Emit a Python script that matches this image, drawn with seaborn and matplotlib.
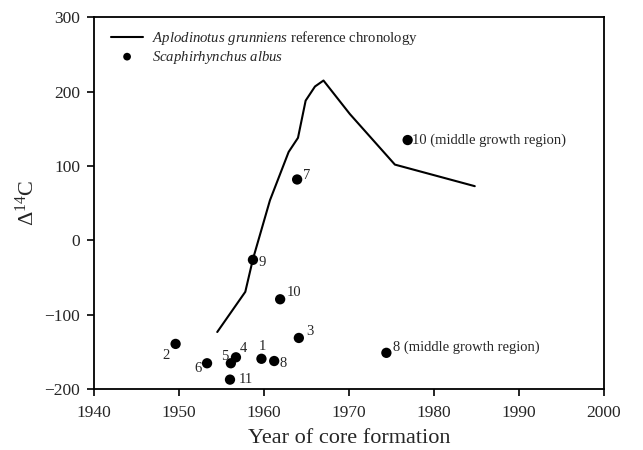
import pandas as pd
import matplotlib
matplotlib.use('Agg')
import matplotlib.pyplot as plt
import seaborn as sns

# reference chronology (Aplodinotus grunniens)
ref_year = [1954.5, 1957.8, 1958.7, 1960.7, 1962.9, 1964.0, 1964.9, 1966.0, 1967.0, 1970.1, 1975.4, 1984.8]
ref_d14c = [-123, -69, -25, 54, 119, 138, 188, 207, 215, 170, 102, 73]

# Scaphirhynchus albus cores
fish_year = [1959.7, 1949.6, 1964.1, 1956.7, 1956.1, 1953.3, 1963.9, 1961.2, 1958.7, 1961.9, 1956.0, 1974.4, 1976.9]
fish_d14c = [-159, -139, -131, -157, -165, -165, 82, -162, -26, -79, -187, -151, 135]
fish_label = ['1', '2', '3', '4', '5', '6', '7', '8', '9', '10', '11',
              '8 (middle growth region)', '10 (middle growth region)']
# label offsets in points
label_dx = [1, -4, 5, 3, -2, -4, 4, 4, 4, 5, 6, 5, 3]
label_dy = [9, -8, 5, 6, 5, -4, 3, -1.5, -2, 5, 0, 4, 0]
label_ha = ['center', 'right', 'left', 'left', 'right', 'right', 'left', 'left', 'left', 'left', 'left', 'left', 'left']

ref = pd.DataFrame({'year': ref_year, 'd14c': ref_d14c})
fish = pd.DataFrame({'year': fish_year, 'd14c': fish_d14c})

sns.set_style('ticks')
plt.rcParams['font.family'] = ['Liberation Serif', 'DejaVu Serif']
plt.rcParams['mathtext.fontset'] = 'custom'
plt.rcParams['mathtext.rm'] = 'Liberation Serif'
plt.rcParams['mathtext.it'] = 'Liberation Serif:italic'

fig = plt.figure(figsize=(6.43, 4.5), dpi=100)
ax = fig.add_axes([0.1462, 0.1349, 0.7931, 0.8267])

sns.lineplot(x='year', y='d14c', data=ref, ax=ax, color='black', linewidth=1.5,
             sort=False, estimator=None,
             label=r'$\it{Aplodinotus\ grunniens}$ reference chronology')
sns.scatterplot(x='year', y='d14c', data=fish, ax=ax, color='black', s=55,
                edgecolor='none', zorder=3, label=r'$\it{Scaphirhynchus\ albus}$')

for i in range(len(fish_label)):
    ax.annotate(fish_label[i], (fish_year[i], fish_d14c[i]),
                xytext=(label_dx[i], label_dy[i]), textcoords='offset points',
                ha=label_ha[i], va='center', fontsize=10.5)

ax.set_xlim(1940, 2000)
ax.set_ylim(-200, 300)
ax.set_xticks(range(1940, 2001, 10))
ax.set_yticks(range(-200, 301, 100))
ax.set_yticklabels(['\u2212200', '\u2212100', '0', '100', '200', '300'])
ax.tick_params(direction='out', length=5, width=1.2, labelsize=12.5, color='black')
ax.tick_params(axis='x', pad=6)
ax.tick_params(axis='y', pad=5)
for sp in ax.spines.values():
    sp.set_linewidth(1.3)
    sp.set_color('black')

ax.set_xlabel('Year of core formation', fontsize=16, labelpad=6)
ax.set_ylabel(r'$\Delta^{14}$C', fontsize=16)

leg = ax.legend(loc='upper left', bbox_to_anchor=(0.01, 1.0), frameon=False,
                fontsize=10.6, handlelength=2.2, handletextpad=0.6,
                labelspacing=0.1, borderaxespad=0.4, markerscale=0.75)

fig.savefig('out.png', dpi=100)
